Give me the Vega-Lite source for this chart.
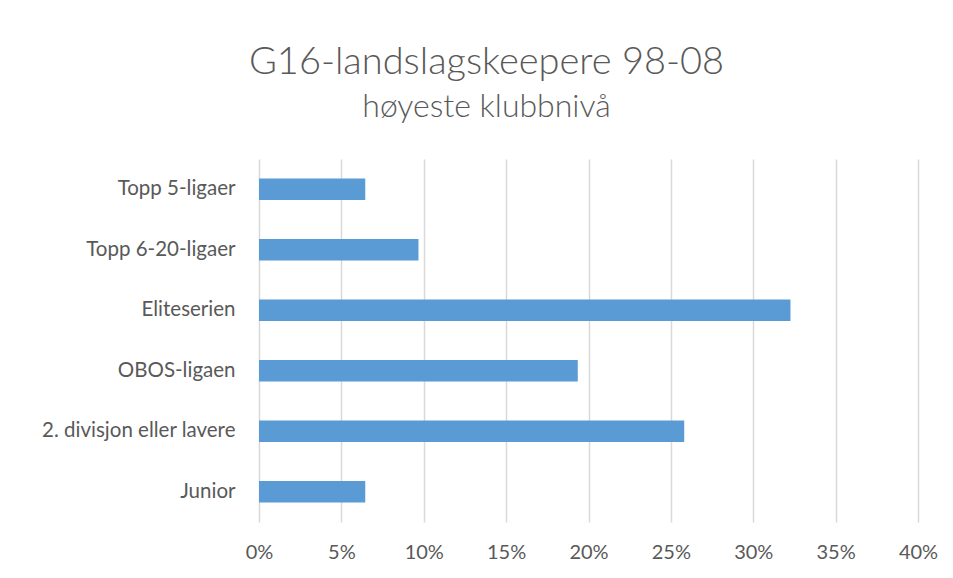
{
  "$schema": "https://vega.github.io/schema/vega-lite/v6.json",
  "width": 659,
  "height": 363,
  "autosize": "none",
  "padding": {"left": 259, "top": 159, "right": 35, "bottom": 56},
  "background": "white",
  "title": {
    "text": "G16-landslagskeepere 98-08",
    "subtitle": "høyeste klubbnivå",
    "anchor": "middle",
    "dx": -102,
    "offset": 36,
    "font": "Lato",
    "fontSize": 38,
    "fontWeight": 300,
    "color": "#595959",
    "subtitleFont": "Lato",
    "subtitleFontSize": 32,
    "subtitleFontWeight": 300,
    "subtitleColor": "#595959",
    "subtitlePadding": 10
  },
  "data": {
    "values": [
      {"nivå": "Topp 5-ligaer", "andel": 0.0645},
      {"nivå": "Topp 6-20-ligaer", "andel": 0.0968},
      {"nivå": "Eliteserien", "andel": 0.3226},
      {"nivå": "OBOS-ligaen", "andel": 0.1935},
      {"nivå": "2. divisjon eller lavere", "andel": 0.2581},
      {"nivå": "Junior", "andel": 0.0645}
    ]
  },
  "mark": {"type": "bar", "color": "#5B9BD5"},
  "encoding": {
    "y": {
      "field": "nivå",
      "type": "nominal",
      "sort": null,
      "scale": {"paddingInner": 0.645, "paddingOuter": 0.3225},
      "axis": {
        "title": null,
        "domain": false,
        "ticks": false,
        "grid": false,
        "labelFont": "Lato",
        "labelFontSize": 20.5,
        "labelColor": "#595959",
        "labelPadding": 24,
        "labelLimit": 400
      }
    },
    "x": {
      "field": "andel",
      "type": "quantitative",
      "scale": {"domain": [0, 0.4], "nice": false},
      "axis": {
        "title": null,
        "format": ".0%",
        "values": [0, 0.05, 0.1, 0.15, 0.2, 0.25, 0.3, 0.35, 0.4],
        "domain": false,
        "ticks": false,
        "grid": true,
        "gridColor": "#D9D9D9",
        "gridWidth": 1.5,
        "labelFlush": false,
        "labelFont": "Lato",
        "labelFontSize": 20,
        "labelColor": "#595959",
        "labelPadding": 20
      }
    }
  },
  "config": {"view": {"stroke": null}}
}
